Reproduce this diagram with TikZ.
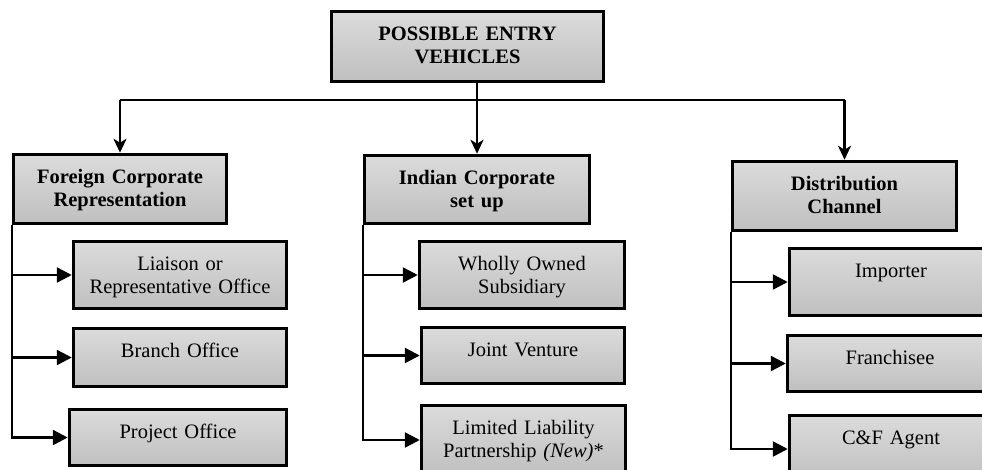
\documentclass[tikz,border=0pt]{standalone}
\usepackage{fontspec}
\setmainfont{Liberation Serif}
\usepackage{tikz}
\usetikzlibrary{arrows.meta}

\begin{document}
\begin{tikzpicture}[x=1pt,y=-1pt,line width=2.5pt,
                    >={Stealth[length=14pt,width=13pt,inset=4pt]}]
  \tikzstyle{box}=[draw,line width=3.5pt,top color=gray!28,bottom color=gray!50,inner sep=0pt,
                   align=center,text height=28.5pt,font=\fontsize{20.5}{23}\selectfont]
  \tikzstyle{head}=[box,font=\fontsize{20.5}{23}\selectfont\bfseries]
  \tikzstyle{feed}=[-{Triangle[length=15pt,width=15pt]}]

  \useasboundingbox (0,0) rectangle (982,469);
  \clip (0,0) rectangle (982,469);

  \node[head,text width=272pt,text depth=41.5pt] (top) at (467.5,46.5) {POSSIBLE ENTRY\\VEHICLES};

  \node[head,text width=213pt,text depth=40.5pt] (foreign) at (120,189) {Foreign Corporate\\Representation};
  \node[head,text width=225pt,text depth=39.5pt] (indian) at (477,189.5) {Indian Corporate\\set up};
  \node[head,text width=224pt,text depth=40.5pt] (distrib) at (844.5,196) {Distribution\\Channel};

  \node[box,text width=213pt,text depth=38.5pt] (liaison) at (180,275) {Liaison or\\Representative Office};
  \node[box,text width=213pt,text depth=29.5pt] (branch) at (180,357.5) {Branch Office};
  \node[box,text width=217pt,text depth=27.5pt] (project) at (178,437.5) {Project Office};

  \node[box,text width=205pt,text depth=38.5pt] (wholly) at (522,275) {Wholly Owned\\Subsidiary};
  \node[box,text width=203pt,text depth=27.5pt] (joint) at (523,355.5) {Joint Venture};
  \node[box,text width=204pt,text depth=40.5pt] (llp) at (523.5,440) {Limited Liability\\Partnership \textit{(New)}*};

  \node[box,text width=203pt,text depth=38.5pt] (importer) at (891,282) {Importer};
  \node[box,text width=205pt,text depth=27.5pt] (franchisee) at (890,363.5) {Franchisee};
  \node[box,text width=203pt,text depth=38.5pt] (cf) at (891,449) {C\&F Agent};

  \coordinate (bus) at (0,100);
  \draw (foreign.north |- bus) -- (distrib.north |- bus);
  \draw[->] (top.south -| indian.north) -- (indian);
  \draw[->] (foreign.north |- bus) -- (foreign);
  \draw[->] (distrib.north |- bus) -- (distrib);

  \draw[feed] (foreign.south west) |- (liaison);
  \draw[feed] (foreign.south west) |- (branch);
  \draw[feed] (foreign.south west) |- (project);

  \draw[feed] (indian.south west) |- (wholly);
  \draw[feed] (indian.south west) |- (joint);
  \draw[feed] (indian.south west) |- (llp);

  \draw[feed] (distrib.south west) |- (importer);
  \draw[feed] (distrib.south west) |- (franchisee);
  \draw[feed] (distrib.south west) |- (cf);
\end{tikzpicture}
\end{document}
